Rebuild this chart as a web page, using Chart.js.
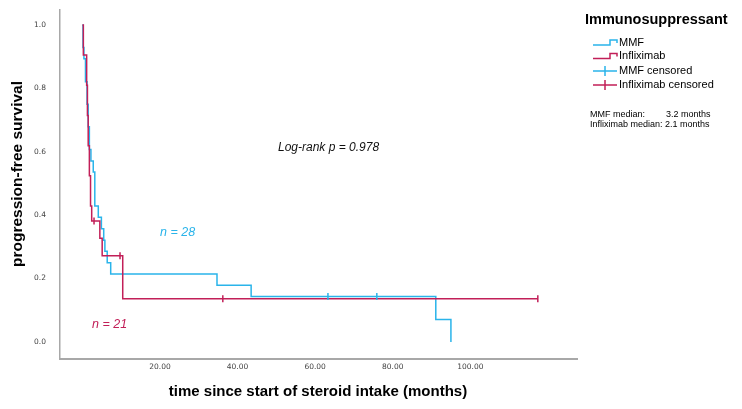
<!DOCTYPE html>
<html>
<head>
<meta charset="utf-8">
<script src="https://cdn.jsdelivr.net/npm/chart.js@4"></script>
<style>
html,body{margin:0;padding:0;background:#fff;}
#c{display:block;}
</style>
</head>
<body>
<canvas id="c" width="742" height="409"></canvas>
<script>
// ---- data ----
const mmfTimes = [0, 0.15, 0.4, 0.8, 1.2, 1.5, 1.8, 2.2, 2.8, 3.2, 4.1, 4.9, 5.5, 5.8, 6.4, 7.3, 34.7, 43.5, 91.1, 95.0];
const mmfSurv  = [1.0, 0.929, 0.893, 0.821, 0.750, 0.679, 0.607, 0.571, 0.536, 0.429, 0.393, 0.357, 0.321, 0.286, 0.250, 0.214, 0.179, 0.143, 0.071, 0.0];
const mmfCensorTimes = [63.3, 75.9];
const mmfCensorSurv  = [0.143, 0.143];

const infTimes = [0, 0.25, 1.1, 1.3, 1.5, 1.8, 2.1, 2.4, 4.5, 5.1, 10.4, 117.4];
const infSurv  = [1.0, 0.905, 0.810, 0.714, 0.619, 0.524, 0.429, 0.381, 0.327, 0.272, 0.136, 0.136];
const infCensorTimes = [3.0, 9.7, 36.2, 117.4];
const infCensorSurv  = [0.381, 0.272, 0.136, 0.136];

const xTicks = [20, 40, 60, 80, 100];
const yTicks = [0.0, 0.2, 0.4, 0.6, 0.8, 1.0];

const seriesNames = ['MMF', 'Infliximab', 'MMF censored', 'Infliximab censored'];
const groupTitle = 'Immunosuppressant';
const medianLabels = ['MMF median:', 'Infliximab median:'];
const medianValues = ['3.2 months', '2.1 months'];
const logRankText = 'Log-rank p = 0.978';
const nLabels = ['n = 28', 'n = 21'];
const xTitle = 'time since start of steroid intake (months)';
const yTitle = 'progression-free survival';

const CYAN = '#2ab4ea';
const RED = '#c21f58';

const pts = (xs, ys) => xs.map((x, i) => ({x: x, y: ys[i]}));

const overlay = {
  id: 'overlay',
  afterDraw(chart) {
    const ctx = chart.ctx;
    ctx.save();
    ctx.fillStyle = '#000';
    ctx.textBaseline = 'middle';
    // axis titles
    ctx.font = 'bold 15px "Liberation Sans", Arial, sans-serif';
    ctx.textAlign = 'center';
    ctx.fillText(xTitle, 318, 392);
    ctx.save();
    ctx.translate(18, 174);
    ctx.rotate(-Math.PI / 2);
    ctx.font = 'bold 15.5px "Liberation Sans", Arial, sans-serif';
    ctx.fillText(yTitle, 0, 0);
    ctx.restore();
    // legend
    ctx.textAlign = 'left';
    ctx.font = 'bold 14.5px "Liberation Sans", Arial, sans-serif';
    ctx.fillText(groupTitle, 585, 20);
    ctx.font = '11px "Liberation Sans", Arial, sans-serif';
    const ly = [42.5, 56, 71, 85];
    const lc = [CYAN, RED, CYAN, RED];
    for (let i = 0; i < 4; i++) {
      const y = ly[i];
      ctx.strokeStyle = lc[i];
      ctx.lineWidth = 1.5;
      ctx.beginPath();
      if (i < 2) {
        ctx.moveTo(593, y + 2.5);
        ctx.lineTo(610, y + 2.5);
        ctx.lineTo(610, y - 2.5);
        ctx.lineTo(617, y - 2.5);
        ctx.lineTo(617, y + 0.5);
      } else {
        ctx.moveTo(593, y);
        ctx.lineTo(617, y);
        ctx.moveTo(605, y - 5);
        ctx.lineTo(605, y + 5);
      }
      ctx.stroke();
      ctx.fillStyle = '#000';
      ctx.fillText(seriesNames[i], 619, y);
    }
    ctx.font = '9px "Liberation Sans", Arial, sans-serif';
    ctx.fillText(medianLabels[0], 590, 115);
    ctx.fillText(medianValues[0], 666, 115);
    ctx.fillText(medianLabels[1] + ' ' + medianValues[1], 590, 125);
    // annotations
    ctx.font = 'italic 12px "Liberation Sans", Arial, sans-serif';
    ctx.fillStyle = '#111';
    ctx.fillText(logRankText, 278, 148);
    ctx.font = 'italic 12.5px "Liberation Sans", Arial, sans-serif';
    ctx.fillStyle = CYAN;
    ctx.fillText(nLabels[0], 160, 233);
    ctx.fillStyle = RED;
    ctx.fillText(nLabels[1], 92, 325);
    ctx.restore();
  }
};

new Chart(document.getElementById('c'), {
  type: 'line',
  data: {
    datasets: [
      {label: 'MMF', data: pts(mmfTimes, mmfSurv), borderColor: CYAN, borderWidth: 1.5, stepped: 'before', pointRadius: 0, fill: false, order: 4},
      {label: 'Infliximab', data: pts(infTimes, infSurv), borderColor: RED, borderWidth: 1.5, stepped: 'before', pointRadius: 0, fill: false, order: 3},
      {label: 'MMF censored', data: pts(mmfCensorTimes, mmfCensorSurv), showLine: false, pointStyle: 'line', rotation: 90, pointRadius: 3.5, borderColor: CYAN, borderWidth: 1.5, order: 2},
      {label: 'Infliximab censored', data: pts(infCensorTimes, infCensorSurv), showLine: false, pointStyle: 'line', rotation: 90, pointRadius: 3.5, borderColor: RED, borderWidth: 1.5, order: 1}
    ]
  },
  options: {
    responsive: false,
    animation: false,
    layout: {padding: {top: 10, right: 165, left: 0, bottom: 0}},
    plugins: {legend: {display: false}, tooltip: {enabled: false}},
    scales: {
      x: {
        type: 'linear',
        min: -5.77, max: 127.5,
        afterBuildTicks: s => { s.ticks = xTicks.map(v => ({value: v})); },
        afterFit: s => { s.height = 50; s.paddingLeft = 0; s.paddingRight = 0; },
        grid: {display: false, drawTicks: false},
        border: {display: true, color: '#a8a8a8', width: 2},
        ticks: {padding: 4, color: '#444', font: {family: 'DejaVu Sans', size: 7.5}, maxRotation: 0, callback: v => Number(v).toFixed(2)}
      },
      y: {
        type: 'linear',
        min: -0.054, max: 1.047,
        afterBuildTicks: s => { s.ticks = yTicks.map(v => ({value: v})); },
        afterFit: s => { s.width = 60; s.paddingTop = 0; s.paddingBottom = 0; },
        grid: {display: false, drawTicks: false},
        border: {display: true, color: '#a8a8a8', width: 1.5},
        ticks: {padding: 14, color: '#444', font: {family: 'DejaVu Sans', size: 7.5}, callback: v => Number(v).toFixed(1)}
      }
    }
  },
  plugins: [overlay]
});
</script>
</body>
</html>
